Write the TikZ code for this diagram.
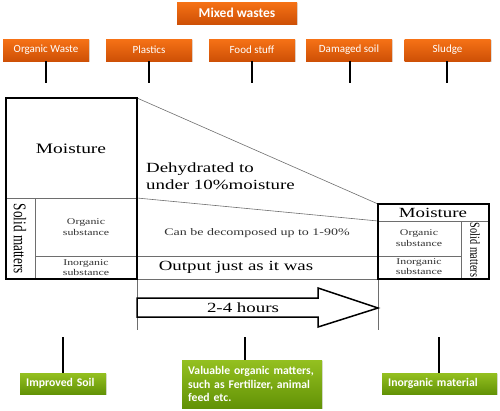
\documentclass[tikz,border=0pt]{standalone}
\usepackage{fontspec}
\setmainfont{Liberation Serif}
\newfontfamily\carl{Carlito}
\usetikzlibrary{shadows}
\definecolor{otop}{RGB}{246,114,22}
\definecolor{obot}{RGB}{206,80,6}
\definecolor{gtop}{RGB}{148,192,32}
\definecolor{gbot}{RGB}{98,146,6}
\definecolor{thinline}{RGB}{110,110,110}
\definecolor{smalltxt}{RGB}{50,50,50}
\newcommand\widetxt[1]{\scalebox{1.35}[1]{#1}}
\newcommand\talltxt[1]{\scalebox{1}[1.35]{#1}}
\newcommand\fsz[2]{\fontsize{#1}{#2}\selectfont}
\begin{document}
\begin{tikzpicture}[x=1pt,y=-1pt,
  obox/.style={draw=none, top color=otop, bottom color=obot, text=white,
    font=\carl\fsz{11}{13}, minimum width=86pt, minimum height=22pt,
    inner sep=0pt, drop shadow={opacity=0.25, shadow xshift=1pt, shadow yshift=-1pt}},
  gbox/.style={draw=none, top color=gtop, bottom color=gbot, text=white,
    font=\carl\bfseries\fsz{11.7}{13.5}, align=left, anchor=north west,
    inner xsep=6pt, inner ysep=0pt,
    drop shadow={opacity=0.25, shadow xshift=1pt, shadow yshift=-1pt}},
  stub/.style={line width=1.8pt, black},
  thick box/.style={line width=1.5pt, black},
  thin/.style={line width=0.6pt, thinline},
  txt/.style={inner sep=0pt},
  small/.style={inner sep=0pt, text=smalltxt},
]
\useasboundingbox (0,0) rectangle (500,410);

% top row
\node[obox, minimum width=120pt, font=\carl\bfseries\fsz{13.5}{15}] (mixed) at (237,13) {Mixed wastes};
\node[obox] (ow) at (46,50) {Organic Waste};
\node[obox] (pl) at (149,50) {Plastics};
\node[obox] (fs) at (252,50) {Food stuff};
\node[obox] (ds) at (349,50) {Damaged soil};
\node[obox] (sl) at (447.5,50) {Sludge};
\coordinate (owe) at (46,83);
\coordinate (ple) at (149,83);
\coordinate (fse) at (252,83);
\coordinate (dse) at (350,83);
\coordinate (sle) at (447,83);
\draw[stub] (ow.south) -- (owe);
\draw[stub] (pl.south -| ple) -- (ple);
\draw[stub] (fs.south) -- (fse);
\draw[stub] (ds.south -| dse) -- (dse);
\draw[stub] (sl.south -| sle) -- (sle);

% connecting thin lines
\draw[thin] (137,98) -- (378,204);
\draw[thin] (137,198) -- (378,221);
\draw[thin] (137,256) -- (378,256);
\draw[thin] (137,279) -- (378,279);
\draw[thin] (137,279) -- (137,330);
\draw[thin] (378,279) -- (378,330);

% left box
\draw[thin] (6,198) -- (137,198);
\draw[thin] (35,198) -- (35,279);
\draw[thin] (35,256) -- (137,256);
\draw[thick box] (6,98) rectangle (137,279);

% right box
\draw[thin] (378,221) -- (489,221);
\draw[thin] (461,221) -- (461,279);
\draw[thin] (378,256) -- (461,256);
\draw[thick box] (378,204) rectangle (489,279);

% texts left box
\node[txt, font=\fsz{14.4}{17}] (m1) at (71,149) {\widetxt{Moisture}};
\node[txt, font=\fsz{13.2}{15}, rotate=-90] (sm1) at (20,239) {\talltxt{Solid matters}};
\node[small, font=\fsz{8.8}{11}] (os1) at (86,227.5) {\widetxt{\begin{tabular}{@{}c@{}}Organic\\substance\end{tabular}}};
\node[small, font=\fsz{8.8}{10}] (is1) at (86,268) {\widetxt{\begin{tabular}{@{}c@{}}Inorganic\\substance\end{tabular}}};

% middle texts
\node[txt, font=\fsz{14}{17}, anchor=west] (dh) at (146,178) {\widetxt{\begin{tabular}{@{}l@{}}Dehydrated to\\under 10\%moisture\end{tabular}}};
\node[small, font=\fsz{10}{12}] (cd) at (257,233) {\scalebox{1.4}[1]{Can be decomposed up to 1-90\%}};
\node[txt, font=\fsz{14}{16}] (oj) at (236,267) {\widetxt{Output just as it was}};

% right box texts
\node[txt, font=\fsz{14}{16}] (m2) at (433,213) {\widetxt{Moisture}};
\node[small, font=\fsz{8.8}{11}] (os2) at (419,238.5) {\widetxt{\begin{tabular}{@{}c@{}}Organic\\substance\end{tabular}}};
\node[small, font=\fsz{8.8}{10}] (is2) at (419,267) {\widetxt{\begin{tabular}{@{}c@{}}Inorganic\\substance\end{tabular}}};
\node[txt, font=\fsz{10.2}{12}, rotate=-90] (sm2) at (475,250) {\talltxt{Solid matters}};

% arrow
\draw[line width=1.5pt, black, fill=white] (137,298) -- (318,298) -- (318,288) -- (378,308) -- (318,327) -- (318,317) -- (137,317) -- cycle;
\node[txt, font=\fsz{14}{16}] (hr) at (243,308) {\widetxt{2-4 hours}};

% bottom
\node[gbox, minimum height=21pt, text width=74pt] (isoil) at (20,373) {Improved Soil};
\node[gbox, minimum height=48pt, text width=128pt] (val) at (182,360) {Valuable organic matters,\\such as Fertilizer, animal\\feed etc.};
\node[gbox, minimum height=21pt, text width=103pt] (inm) at (382,373) {Inorganic material};
\coordinate (b1) at (63,337);
\coordinate (b2) at (245,337);
\coordinate (b3) at (439,337);
\draw[stub] (b1) -- (b1 |- isoil.north);
\draw[stub] (b2) -- (b2 |- val.north);
\draw[stub] (b3) -- (b3 |- inm.north);
\end{tikzpicture}
\end{document}
